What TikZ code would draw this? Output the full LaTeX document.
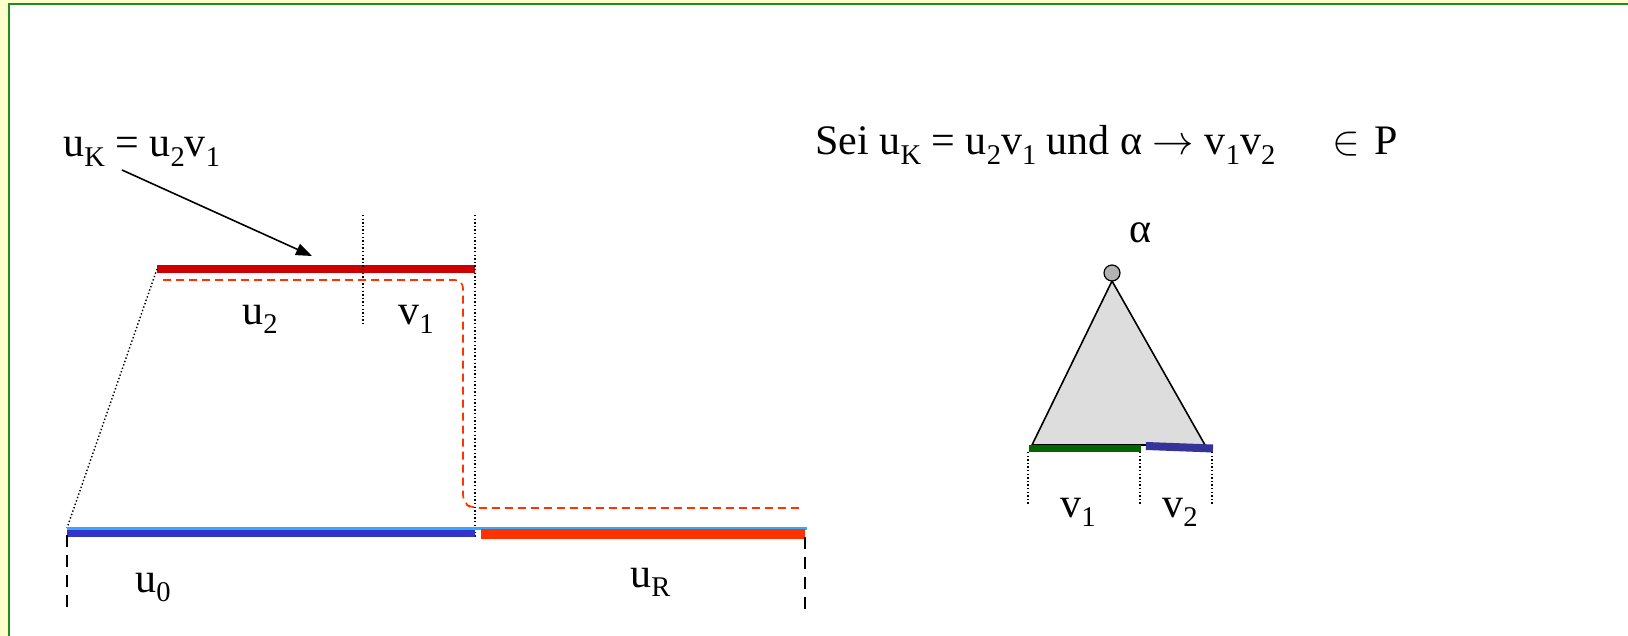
\documentclass[tikz,border=0pt]{standalone}
\usepackage{fontspec}
\setmainfont{Liberation Serif}
\usepackage{graphicx}
\usetikzlibrary{arrows.meta}
\newcommand\sbx[1]{\raisebox{-0.22em}{\scalebox{0.68}{#1}}}
\definecolor{bgyellow}{HTML}{FFFFCC}
\definecolor{framegreen}{HTML}{228B22}
\definecolor{barred}{HTML}{CC0000}
\definecolor{orred}{HTML}{FF3300}
\definecolor{dkblue}{HTML}{3333CC}
\definecolor{ltblue}{HTML}{33AAFF}
\definecolor{trigray}{HTML}{DDDDDD}
\definecolor{knotgray}{HTML}{B3B3B3}
\definecolor{dkgreen}{HTML}{006600}
\definecolor{vblue}{HTML}{333399}
\begin{document}
\begin{tikzpicture}[x=0.5pt,y=-0.5pt,
  lbl/.style={inner sep=0pt,anchor=base west,font=\fontsize{21}{24}\selectfont},
  dotv/.style={black,line width=0.7pt,dash pattern=on 0.7pt off 1.1pt},
  dashv/.style={black,line width=1pt,dash pattern=on 6pt off 4pt},
  reddash/.style={orred,line width=0.8pt,dash pattern=on 4pt off 2.5pt}]
\useasboundingbox (0,0) rectangle (1628,636);
% frame
\fill[bgyellow] (0,0) rectangle (1628,636);
\fill[white] (9,4) rectangle (1628,636);
\draw[framegreen,line width=1.2pt] (9,636) -- (9,4) -- (1628,4);

% left label and arrow
\node[lbl] (uk) at (63,157) {u\sbx{K} = u\sbx{2}v\sbx{1}};
\coordinate (a1) at (122,170);
\coordinate (a2) at (312,256);
\draw[-{Triangle[length=8pt,width=6pt]},line width=0.8pt] (a1) -- (a2);

% upper red bar
\coordinate (r1) at (157,269);
\coordinate (r2) at (475,269);
\draw[barred,line width=4pt] (r1) -- (r2);

% dotted lines
\coordinate (d1t) at (363,215); \coordinate (d1b) at (363,325);
\coordinate (d2t) at (475,215); \coordinate (d2b) at (475,537);
\draw[dotv] (d1t) -- (d1b);
\draw[dotv] (d2t) -- (d2b);
\coordinate (b0) at (67,528);
\draw[dotv] (r1) -- (b0);

% red dashed path
\coordinate (p1) at (163,280);
\coordinate (p2) at (463,280);
\coordinate (p3) at (463,503);
\coordinate (p4) at (472,508);
\coordinate (p5) at (800,508);
\draw[reddash,rounded corners=4pt] (p1) -- (p2) -- (p3) -- (p4) -- (p5);

% bottom bars
\coordinate (lb1) at (67,528.5); \coordinate (lb2) at (807,528.5);
\draw[ltblue,line width=1.2pt] (lb1) -- (lb2);
\coordinate (bb1) at (67,533); \coordinate (bb2) at (475,533);
\draw[dkblue,line width=3.5pt] (bb1) -- (bb2);
\coordinate (rb1) at (481,534); \coordinate (rb2) at (805,534);
\draw[orred,line width=4.8pt] (rb1) -- (rb2);

% dashed verticals
\coordinate (v0t) at (67,535); \coordinate (v0b) at (67,613);
\coordinate (vrt) at (805,537); \coordinate (vrb) at (805,615);
\draw[dashv] (v0t) -- (v0b);
\draw[dashv] (vrt) -- (vrb);

% labels left part
\node[lbl] (u2) at (242,324) {u\sbx{2}};
\node[lbl] (v1a) at (398,324) {v\sbx{1}};
\node[lbl] (u0) at (135,592) {u\sbx{0}};
\node[lbl] (uR) at (630,587) {u\sbx{R}};

% right text
\node[inner sep=0pt,anchor=base west,font=\fontsize{21}{24}\selectfont] (sei) at (815,155)
  {Sei u\sbx{K} = u\sbx{2}v\sbx{1} und α $\rightarrow$ v\sbx{1}v\sbx{2}\hspace{1.35em}$\in$\hspace{0.35em}P};

% tree
\node[inner sep=0pt,anchor=base,font=\fontsize{21}{24}\selectfont] (alpha) at (1140,243) {α};
\coordinate (apex) at (1112,281);
\coordinate (bl) at (1032,445);
\coordinate (br) at (1205,445);
\draw[fill=trigray,line width=0.8pt,line join=round] (apex) -- (bl) -- (br) -- cycle;
\node[circle,draw,fill=knotgray,line width=0.6pt,minimum size=8pt,inner sep=0pt] (knot) at (1112,273) {};
\coordinate (g1) at (1029,448.5); \coordinate (g2) at (1141,448.5);
\draw[dkgreen,line width=3.5pt] (g1) -- (g2);
\coordinate (h1) at (1146,446); \coordinate (h2) at (1213,448.5);
\draw[vblue,line width=4pt] (h1) -- (h2);
\coordinate (t1t) at (1028,452); \coordinate (t1b) at (1028,505);
\coordinate (t2t) at (1140,452); \coordinate (t2b) at (1140,505);
\coordinate (t3t) at (1212,452); \coordinate (t3b) at (1212,505);
\draw[dotv] (t1t) -- (t1b);
\draw[dotv] (t2t) -- (t2b);
\draw[dotv] (t3t) -- (t3b);
\node[lbl] (v1b) at (1060,517) {v\sbx{1}};
\node[lbl] (v2b) at (1162,517) {v\sbx{2}};
\end{tikzpicture}
\end{document}
